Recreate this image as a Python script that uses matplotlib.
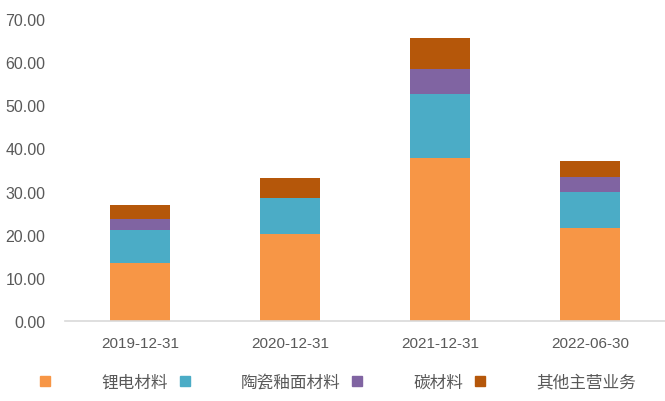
import numpy as np
import matplotlib

matplotlib.use("Agg")
import matplotlib.pyplot as plt
from matplotlib.lines import Line2D

plt.rcParams["font.family"] = ["Liberation Sans", "Noto Sans CJK SC", "DejaVu Sans"]

# ----------------------------------------------------------------------
# Daten
# ----------------------------------------------------------------------
categories = ["2019-12-31", "2020-12-31", "2021-12-31", "2022-06-30"]
series_names = ["锂电材料", "陶瓷釉面材料", "碳材料", "其他主营业务"]
lithium = [13.4, 20.2, 37.7, 21.6]
ceramic = [7.8, 8.3, 14.9, 8.3]
carbon = [2.5, 0.0, 5.8, 3.5]
other = [3.1, 4.6, 7.1, 3.8]
y_ticks = [0, 10, 20, 30, 40, 50, 60, 70]

colors = ["#F79646", "#4BACC6", "#8064A2", "#B5570A"]
text_color = "#595959"

fig = plt.figure(figsize=(6.65, 4.02), dpi=100)
ax = fig.add_axes([65 / 665, 1 - 322 / 402, 600 / 665, 302 / 402])

x = np.arange(len(categories))
bottom = np.zeros(len(categories))
for vals, c in zip([lithium, ceramic, carbon, other], colors):
    ax.bar(x, vals, width=0.4, bottom=bottom, color=c, zorder=2)
    bottom += np.asarray(vals)

ax.set_xlim(-0.5, 3.5)
ax.set_ylim(0, 70)
ax.set_xticks(x)
ax.set_xticklabels(categories, fontsize=11, color=text_color)
ax.set_yticks(y_ticks)
ax.set_yticklabels([f"{v:.2f}" for v in y_ticks], fontsize=11.5, color=text_color)
ax.tick_params(axis="y", length=0, pad=14)
ax.tick_params(axis="x", length=0, pad=11)

for s in ["top", "right", "left"]:
    ax.spines[s].set_visible(False)
ax.spines["bottom"].set_color("#D9D9D9")
ax.spines["bottom"].set_linewidth(1.2)

handles = [Line2D([], [], linestyle="none", marker="s", markersize=7,
                  markerfacecolor=c, markeredgecolor=c) for c in colors]
fig.legend(handles, series_names, loc="center left",
           bbox_to_anchor=(40 / 665, 1 - 383 / 402), ncol=4, frameon=False,
           fontsize=12, labelcolor=text_color, handlelength=0.6,
           handletextpad=3.06, columnspacing=0.72, borderpad=0,
           borderaxespad=0)

fig.savefig("out.png", dpi=100)
